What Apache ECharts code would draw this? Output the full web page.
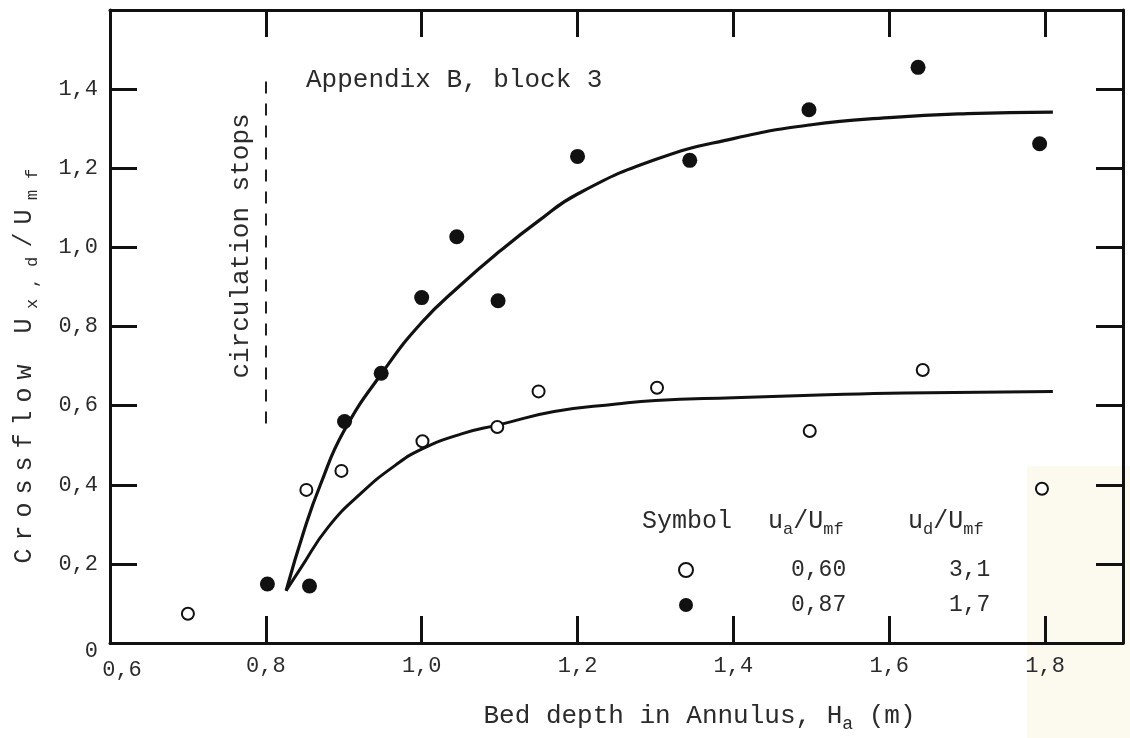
<!DOCTYPE html>
<html>
<head>
<meta charset="utf-8">
<title>Crossflow vs bed depth in annulus</title>
<script src="https://cdn.jsdelivr.net/npm/echarts@6/dist/echarts.min.js"></script>
<style>
  html, body { margin: 0; padding: 0; background: #fff; }
  #chart { width: 1130px; height: 738px; }
</style>
</head>
<body>
<div id="chart"></div>
<script>
// Measured runs: bed depth in annulus H_a (m) and crossflow U_x,d/U_mf
const depthOpen   = [0.700, 0.852, 0.897, 1.001, 1.097, 1.150, 1.302, 1.498, 1.643, 1.796];
const flowOpen    = [0.074, 0.387, 0.435, 0.510, 0.546, 0.636, 0.645, 0.536, 0.690, 0.390];
const depthFilled = [0.802, 0.856, 0.901, 0.948, 1.000, 1.045, 1.098, 1.200, 1.344, 1.497, 1.637, 1.793];
const flowFilled  = [0.149, 0.144, 0.560, 0.682, 0.873, 1.027, 0.865, 1.230, 1.220, 1.348, 1.455, 1.262];

// Hand-drawn trend curves through each set of runs
const curveFilledDepth = [0.826, 0.850, 0.870, 0.900, 0.950, 1.000, 1.050, 1.100, 1.150, 1.200, 1.300, 1.400, 1.500, 1.600, 1.700, 1.810];
const curveFilledFlow  = [0.132, 0.290, 0.400, 0.535, 0.685, 0.810, 0.905, 0.990, 1.067, 1.135, 1.222, 1.275, 1.310, 1.328, 1.338, 1.342];
const curveOpenDepth   = [0.826, 0.845, 0.880, 0.923, 0.966, 1.000, 1.050, 1.100, 1.170, 1.250, 1.300, 1.400, 1.500, 1.620, 1.810];
const curveOpenFlow    = [0.132, 0.190, 0.293, 0.380, 0.449, 0.490, 0.528, 0.552, 0.585, 0.604, 0.613, 0.620, 0.626, 0.632, 0.636];

// Onset of circulation
const stopDepth = 0.8;
const stopFlowRange = [0.555, 1.435];

// Legend table rows: velocity ratios u_a/U_mf and u_d/U_mf
const legendRows = [
  { name: 'Run A', ua: '0,60', ud: '3,1' },
  { name: 'Run B', ua: '0,87', ud: '1,7' }
];

const FONT = '"Liberation Mono", "DejaVu Sans Mono", monospace';
const INK = '#111';
const TXT = '#2b2b2b';

const zip = (xs, ys) => xs.map((x, i) => [x, ys[i]]);
const comma = v => v.toFixed(1).replace('.', ',');
const spaced = (str, cls) => str.split('').map(c => '{' + cls + '|' + c + '}').join('');

const subRich = (size, subSize) => ({
  n: { fontFamily: FONT, fontSize: size, fontWeight: 'normal', color: TXT, lineHeight: 34, verticalAlign: 'middle' },
  s: { fontFamily: FONT, fontSize: subSize, fontWeight: 'normal', color: TXT, lineHeight: subSize, verticalAlign: 'bottom' }
});

const frameAxis = {
  axisLine: { show: true, onZero: false, lineStyle: { color: INK, width: 3 } },
  axisTick: { show: true, inside: true, length: 27, lineStyle: { color: INK, width: 3 } },
  splitLine: { show: false }
};

const chart = echarts.init(document.getElementById('chart'), null, { renderer: 'canvas' });

chart.setOption({
  animation: false,
  backgroundColor: '#fff',
  grid: { left: 110, right: 7, top: 10, bottom: 95 },
  title: [
    { text: 'Appendix B, block 3', left: 306, top: 67, padding: 0,
      textStyle: { fontFamily: FONT, fontSize: 26, fontWeight: 'normal', color: TXT } },
    { text: '{n|Symbol}', left: 642, top: 504, padding: 0,
      textStyle: { fontWeight: 'normal', rich: subRich(25, 17) } },
    { text: '{n|u}{s|a}{n|/U}{s|mf}', left: 768, top: 504, padding: 0,
      textStyle: { fontWeight: 'normal', rich: subRich(25, 17) } },
    { text: '{n|u}{s|d}{n|/U}{s|mf}', left: 908, top: 504, padding: 0,
      textStyle: { fontWeight: 'normal', rich: subRich(25, 17) } }
  ],
  legend: {
    orient: 'vertical',
    left: 673,
    top: 553,
    itemWidth: 14,
    itemHeight: 14,
    itemGap: 11,
    selectedMode: false,
    icon: 'circle',
    data: [
      { name: legendRows[0].name, itemStyle: { color: '#fff', borderColor: INK, borderWidth: 2, opacity: 1 } },
      { name: legendRows[1].name, itemStyle: { color: INK, borderWidth: 0, opacity: 1 } }
    ],
    formatter: name => {
      const row = legendRows.find(r => r.name === name);
      return '{g|}{a|' + row.ua + '}{b|' + row.ud + '}';
    },
    textStyle: {
      fontFamily: FONT, fontSize: 23, lineHeight: 24, color: TXT,
      rich: {
        g: { width: 93 },
        a: { width: 158, fontFamily: FONT, fontSize: 23, color: TXT },
        b: { fontFamily: FONT, fontSize: 23, color: TXT }
      }
    }
  },
  xAxis: [
    Object.assign({
      type: 'value', position: 'bottom', min: 0.6, max: 1.9, interval: 0.2,
      name: '{n|Bed depth in Annulus, H}{s|a}{n| (m)}',
      nameLocation: 'middle',
      nameGap: 56,
      nameTextStyle: { padding: [0, 0, 0, 166], rich: subRich(26, 18) },
      axisLabel: {
        margin: 12, fontFamily: FONT, fontSize: 22, color: TXT,
        formatter: v => {
          if (v > 1.85) return '';
          if (Math.abs(v - 0.6) < 1e-6) return '{o|' + comma(v) + '}';
          return comma(v);
        },
        rich: { o: { fontFamily: FONT, fontSize: 22, color: TXT, padding: [4, 0, 0, 24] } }
      }
    }, frameAxis),
    Object.assign({
      type: 'value', position: 'top', min: 0.6, max: 1.9, interval: 0.2,
      axisLabel: { show: false }
    }, frameAxis)
  ],
  yAxis: [
    Object.assign({
      type: 'value', position: 'left', min: 0, max: 1.6, interval: 0.2,
      name: spaced('Crossflow U', 'yn') + spaced('x,d', 'ys') + spaced('/U', 'yn') + spaced('mf', 'ys'),
      nameLocation: 'middle',
      nameRotate: 90,
      nameGap: 69,
      nameTextStyle: {
        padding: [0, 78, 0, 0],
        rich: {
          yn: { fontFamily: FONT, fontSize: 25, color: TXT, width: 23, lineHeight: 34, verticalAlign: 'middle' },
          ys: { fontFamily: FONT, fontSize: 17, color: TXT, width: 21, lineHeight: 17, verticalAlign: 'bottom' }
        }
      },
      axisLabel: {
        margin: 12, fontFamily: FONT, fontSize: 22, color: TXT,
        formatter: v => {
          if (v > 1.5) return '';
          if (v < 1e-6) return '{z|0}';
          return comma(v);
        },
        rich: { z: { fontFamily: FONT, fontSize: 22, color: TXT, padding: [16, 0, 0, 0] } }
      }
    }, frameAxis),
    Object.assign({
      type: 'value', position: 'right', min: 0, max: 1.6, interval: 0.2,
      axisLabel: { show: false }
    }, frameAxis)
  ],
  graphic: [
    {
      type: 'rect', z: -100, silent: true,
      shape: { x: 1027, y: 466, width: 103, height: 272 },
      style: { fill: '#fcfaef' }
    },
    {
      type: 'text', silent: true,
      x: 241, y: 246, rotation: Math.PI / 2,
      style: {
        text: 'circulation stops', fontFamily: FONT, fontSize: 26, fill: TXT,
        align: 'center', verticalAlign: 'middle'
      }
    }
  ],
  series: [
    {
      name: 'trend B', type: 'line', data: zip(curveFilledDepth, curveFilledFlow),
      smooth: 0.5, symbol: 'none', silent: true, z: 2,
      lineStyle: { color: INK, width: 3.2 }
    },
    {
      name: 'trend A', type: 'line', data: zip(curveOpenDepth, curveOpenFlow),
      smooth: 0.5, symbol: 'none', silent: true, z: 2,
      lineStyle: { color: INK, width: 3 },
      markLine: {
        silent: true, symbol: ['none', 'none'], label: { show: false },
        lineStyle: { type: [12, 10], width: 2, color: '#222' },
        data: [[{ coord: [stopDepth, stopFlowRange[0]] }, { coord: [stopDepth, stopFlowRange[1]] }]]
      }
    },
    {
      name: legendRows[0].name, type: 'scatter', data: zip(depthOpen, flowOpen),
      symbol: 'circle', symbolSize: 12, z: 4,
      itemStyle: { color: '#fff', borderColor: INK, borderWidth: 2, opacity: 1 }
    },
    {
      name: legendRows[1].name, type: 'scatter', data: zip(depthFilled, flowFilled),
      symbol: 'circle', symbolSize: 15, z: 4,
      itemStyle: { color: INK, opacity: 1 }
    }
  ]
});
</script>
</body>
</html>
